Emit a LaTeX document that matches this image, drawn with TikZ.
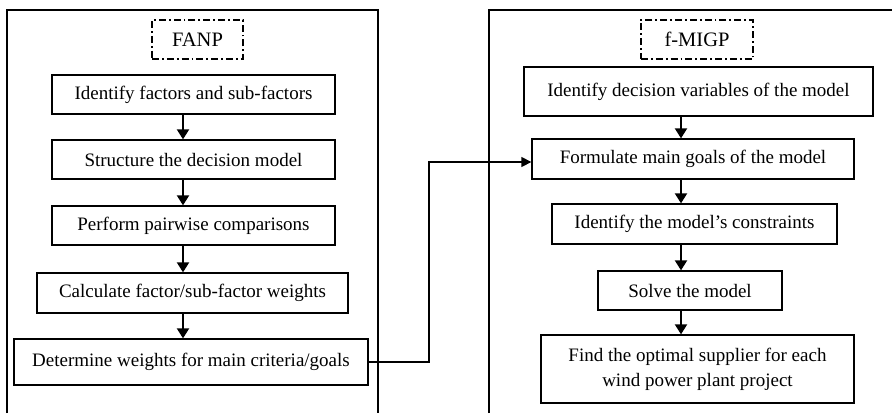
\documentclass[tikz,border=0pt]{standalone}
\usepackage{fontspec}
\setmainfont{Liberation Serif}
\usetikzlibrary{arrows.meta,calc}
\begin{document}
\begin{tikzpicture}[x=1pt,y=-1pt,
  stepbox/.style={draw,line width=1.3pt,rectangle,inner sep=0pt,align=center,font=\fontsize{19}{25}\selectfont},
  titlebox/.style={draw,line width=1.2pt,rectangle,inner sep=0pt,dash pattern=on 7pt off 3pt on 1.8pt off 3pt,font=\fontsize{20.5}{24}\selectfont},
  frame/.style={line width=1.3pt},
  flow/.style={line width=2pt,-{Triangle[width=12pt,length=10pt]}}]
\useasboundingbox (0,0) rectangle (892,413);
% frames
\draw[frame] (7,413) -- (7,10) -- (378,10) -- (378,413);
\draw[frame] (489,413) -- (489,10) -- (892,10);
% left column
\node[titlebox,minimum width=91pt,minimum height=39pt] (fanp) at (197.5,39.5) {FANP};
\node[stepbox,minimum width=283pt,minimum height=39pt] (L1) at (193.5,94.5) {Identify factors and sub-factors};
\node[stepbox,minimum width=283pt,minimum height=39pt] (L2) at (193.5,159.5) {Structure the decision model};
\node[stepbox,minimum width=283pt,minimum height=39pt] (L3) at (193.5,225.5) {Perform pairwise comparisons};
\node[stepbox,minimum width=311pt,minimum height=40pt] (L4) at (192.5,293) {Calculate factor/sub-factor weights};
\node[stepbox,minimum width=354pt,minimum height=46pt] (L5) at (191,362) {Determine weights for main criteria/goals};
\coordinate (la) at (183,0);
\draw[flow] (L1.south -| la) -- (L2.north -| la);
\draw[flow] (L2.south -| la) -- (L3.north -| la);
\draw[flow] (L3.south -| la) -- (L4.north -| la);
\draw[flow] (L4.south -| la) -- (L5.north -| la);
% right column
\node[titlebox,minimum width=112pt,minimum height=39pt] (fmigp) at (697,39.5) {f-MIGP};
\node[stepbox,minimum width=349pt,minimum height=49pt] (R1) at (698.5,91.5) {Identify decision variables of the model};
\node[stepbox,minimum width=322pt,minimum height=40pt] (R2) at (693,159) {Formulate main goals of the model};
\node[stepbox,minimum width=285pt,minimum height=40pt] (R3) at (694.5,224) {Identify the model’s constraints};
\node[stepbox,minimum width=184pt,minimum height=39pt] (R4) at (690,290.5) {Solve the model};
\node[stepbox,minimum width=313pt,minimum height=68pt] (R5) at (697.5,369) {Find the optimal supplier for each\\wind power plant project};
\coordinate (ra) at (681,0);
\draw[flow] (R1.south -| ra) -- (R2.north -| ra);
\draw[flow] (R2.south -| ra) -- (R3.north -| ra);
\draw[flow] (R3.south -| ra) -- (R4.north -| ra);
\draw[flow] (R4.south -| ra) -- (R5.north -| ra);
% link
\coordinate (k) at (429,162);
\draw[line width=1.3pt,-{Triangle[width=10pt,length=10pt]}] (L5.east) -- (L5.east -| k) -- (k) -- (R2.west |- k);
\end{tikzpicture}
\end{document}
